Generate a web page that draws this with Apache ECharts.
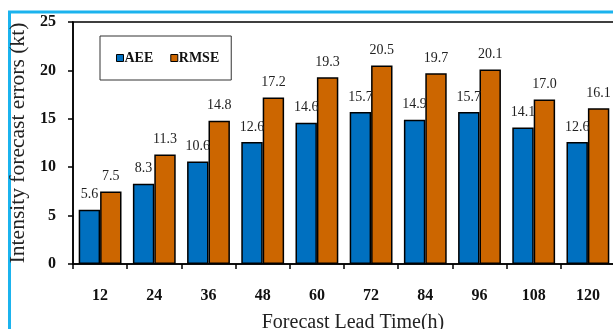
<!DOCTYPE html>
<html>
<head>
<meta charset="utf-8">
<script src="https://cdn.jsdelivr.net/npm/echarts@6/dist/echarts.min.js"></script>
<style>
  html, body { margin: 0; padding: 0; background: #fff; }
  #chart { width: 613px; height: 329px; }
</style>
</head>
<body>
<div id="chart"></div>
<script>
// Forecast lead times (hours)
const leadTimes = ['12', '24', '36', '48', '60', '72', '84', '96', '108', '120'];
// Average error of estimate (kt)
const aee = [5.6, 8.3, 10.6, 12.6, 14.6, 15.7, 14.9, 15.7, 14.1, 12.6];
// Root mean square error (kt)
const rmse = [7.5, 11.3, 14.8, 17.2, 19.3, 20.5, 19.7, 20.1, 17.0, 16.1];
// Y axis ticks
const yTicks = [0, 5, 10, 15, 20, 25];

const serif = '"Liberation Serif", "Times New Roman", serif';

const chart = echarts.init(document.getElementById('chart'), null, { renderer: 'canvas' });

const valueLabel = {
  show: true,
  position: 'top',
  distance: 8,
  fontFamily: serif,
  fontSize: 14,
  color: '#222',
  formatter: p => p.value.toFixed(1)
};

chart.setOption({
  backgroundColor: '#fff',
  animation: false,
  graphic: [{
    type: 'rect',
    shape: { x: 9.5, y: 12, width: 700, height: 400 },
    style: { fill: 'none', stroke: '#1BB3EE', lineWidth: 3 },
    z: 0
  }],
  legend: {
    left: 100,
    top: 36,
    orient: 'horizontal',
    padding: [15, 12, 15, 16],
    itemGap: 17,
    itemWidth: 7,
    itemHeight: 7,
    icon: 'rect',
    borderColor: '#333',
    borderWidth: 1,
    backgroundColor: '#fff',
    itemStyle: { borderColor: '#000', borderWidth: 1 },
    textStyle: {
      fontFamily: serif,
      fontSize: 14,
      fontWeight: 'bold',
      color: '#111',
      padding: [0, 0, 0, -4]
    },
    data: ['AEE', 'RMSE']
  },
  grid: {
    left: 73,
    top: 22,
    right: -2,
    height: 242,
    show: true,
    borderColor: '#000',
    borderWidth: 1.5,
    containLabel: false,
    outerBoundsMode: 'none'
  },
  xAxis: {
    type: 'category',
    data: leadTimes,
    boundaryGap: true,
    axisLine: { lineStyle: { color: '#000', width: 1.5 } },
    axisTick: { show: true, alignWithLabel: false, length: 5, lineStyle: { color: '#000', width: 1.5 } },
    axisLabel: {
      fontFamily: serif,
      fontSize: 16,
      fontWeight: 'bold',
      color: '#111',
      margin: 24
    },
    name: 'Forecast Lead Time(h)',
    nameLocation: 'middle',
    nameGap: 49,
    nameTextStyle: {
      fontFamily: serif,
      fontSize: 20,
      color: '#222',
      padding: [0, 0, 0, 18]
    }
  },
  yAxis: {
    type: 'value',
    min: yTicks[0],
    max: yTicks[yTicks.length - 1],
    interval: yTicks[1] - yTicks[0],
    splitLine: { show: false },
    axisLine: { show: true, lineStyle: { color: '#000', width: 1.5 } },
    axisTick: { show: true, length: 5, lineStyle: { color: '#000', width: 1.5 } },
    axisLabel: {
      fontFamily: serif,
      fontSize: 16,
      fontWeight: 'bold',
      color: '#111',
      margin: 17
    },
    name: 'Intensity forecast errors (kt)',
    nameLocation: 'middle',
    nameGap: 40,
    nameTextStyle: {
      fontFamily: serif,
      fontSize: 21.5,
      color: '#222'
    }
  },
  series: [
    {
      name: 'AEE',
      type: 'bar',
      data: aee,
      barWidth: '39.5%',
      barGap: '0%',
      itemStyle: { color: '#0070C0', borderColor: '#000', borderWidth: 1.5 },
      label: valueLabel
    },
    {
      name: 'RMSE',
      type: 'bar',
      data: rmse,
      barWidth: '39.5%',
      barGap: '0%',
      itemStyle: { color: '#CC6600', borderColor: '#000', borderWidth: 1.5 },
      label: valueLabel
    }
  ]
});
</script>
</body>
</html>
